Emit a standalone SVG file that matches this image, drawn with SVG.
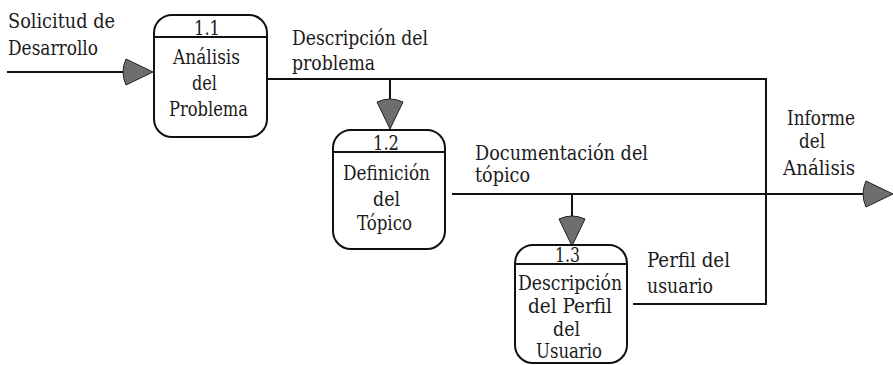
<svg xmlns="http://www.w3.org/2000/svg" xmlns:xlink="http://www.w3.org/1999/xlink" width="893" height="365" viewBox="0 0 893 365">
<style>
text{font-family:"DejaVu Serif Condensed","DejaVu Serif","Liberation Serif",serif;font-size:20px;fill:#1a1a1a;font-stretch:condensed}
.box{fill:#fff;stroke:#111;stroke-width:2}
.div{stroke:#111;stroke-width:2}
.wire{fill:none;stroke:#111;stroke-width:2}
.head{fill:#6e6e6e;stroke:#222;stroke-width:1}
</style>
<defs>
<path id="ah" class="head" d="M0,0 L-27,-13 Q-33,0 -27,13 Z"/>
</defs>
<rect width="893" height="365" fill="#fff"/>
<g id="connectors">
<path class="wire" d="M7,72 H128"/>
<path class="wire" d="M268,79 H766 V304 H633"/>
<path class="wire" d="M390,79 V105"/>
<path class="wire" d="M452,194 H870"/>
<path class="wire" d="M572,194 V222"/>
<use xlink:href="#ah" href="#ah" transform="translate(153,72)"/>
<use xlink:href="#ah" href="#ah" transform="translate(390,129) rotate(90)"/>
<use xlink:href="#ah" href="#ah" transform="translate(572,246) rotate(90)"/>
<use xlink:href="#ah" href="#ah" transform="translate(893,194)"/>
<text x="8" y="28" textLength="107" lengthAdjust="spacingAndGlyphs">Solicitud de</text>
<text x="8" y="55" textLength="90" lengthAdjust="spacingAndGlyphs">Desarrollo</text>
<text x="292" y="45" textLength="136" lengthAdjust="spacingAndGlyphs">Descripción del</text>
<text x="292" y="70" textLength="83" lengthAdjust="spacingAndGlyphs">problema</text>
<text x="475" y="160" textLength="173" lengthAdjust="spacingAndGlyphs">Documentación del</text>
<text x="475" y="182" textLength="55" lengthAdjust="spacingAndGlyphs">tópico</text>
<text x="647" y="267" textLength="83" lengthAdjust="spacingAndGlyphs">Perfil del</text>
<text x="647" y="293" textLength="66" lengthAdjust="spacingAndGlyphs">usuario</text>
<text x="787" y="125" textLength="68" lengthAdjust="spacingAndGlyphs">Informe</text>
<text x="799" y="148" textLength="26" lengthAdjust="spacingAndGlyphs">del</text>
<text x="783" y="175" textLength="72" lengthAdjust="spacingAndGlyphs">Análisis</text>
</g>
<g id="p1_1">
<rect class="box" x="154" y="15" width="113" height="122" rx="18" ry="18"/>
<line class="div" x1="154" y1="37" x2="268" y2="37"/>
<text x="194" y="35" textLength="26" lengthAdjust="spacingAndGlyphs">1.1</text>
<text x="173" y="64" textLength="67" lengthAdjust="spacingAndGlyphs">Análisis</text>
<text x="192" y="90" textLength="25" lengthAdjust="spacingAndGlyphs">del</text>
<text x="169" y="116" textLength="79" lengthAdjust="spacingAndGlyphs">Problema</text>
</g>
<g id="p1_2">
<rect class="box" x="333" y="130" width="112" height="119" rx="18" ry="18"/>
<line class="div" x1="332" y1="152" x2="445" y2="152"/>
<text x="373" y="150" textLength="26" lengthAdjust="spacingAndGlyphs">1.2</text>
<text x="343" y="180" textLength="87" lengthAdjust="spacingAndGlyphs">Definición</text>
<text x="373" y="206" textLength="27" lengthAdjust="spacingAndGlyphs">del</text>
<text x="357" y="230" textLength="55" lengthAdjust="spacingAndGlyphs">Tópico</text>
</g>
<g id="p1_3">
<rect class="box" x="515" y="245" width="112" height="118" rx="18" ry="18"/>
<line class="div" x1="515" y1="264" x2="627" y2="264"/>
<text x="555" y="262" textLength="25" lengthAdjust="spacingAndGlyphs">1.3</text>
<text x="518" y="290" textLength="104" lengthAdjust="spacingAndGlyphs">Descripción</text>
<text x="528" y="313" textLength="84" lengthAdjust="spacingAndGlyphs">del Perfil</text>
<text x="553" y="336" textLength="27" lengthAdjust="spacingAndGlyphs">del</text>
<text x="536" y="358" textLength="66" lengthAdjust="spacingAndGlyphs">Usuario</text>
</g>
</svg>
